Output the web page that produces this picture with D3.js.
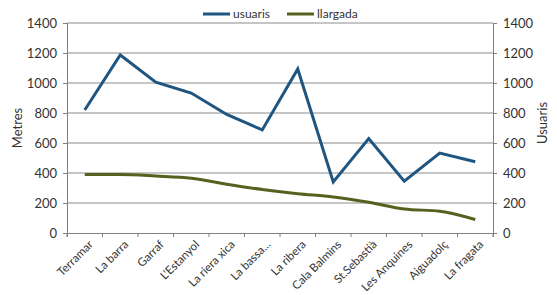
<!DOCTYPE html>
<html>
<head>
<meta charset="utf-8">
<script src="https://cdn.jsdelivr.net/npm/d3@7"></script>
<style>
  body { margin: 0; background: #fff; }
  text { font-family: Lato, "Open Sans", sans-serif; fill: #333; }
</style>
</head>
<body>
<div id="chart"></div>
<script>
const categories = ["Terramar", "La barra", "Garraf", "L'Estanyol", "La riera xica", "La bassa...",
  "La ribera", "Cala Balmins", "St.Sebastià", "Les Anquines", "Aiguadolç", "La fragata"];
const usuaris = [820, 1187, 1005, 933, 790, 687, 1093, 340, 630, 345, 533, 475];
const llargada = [390, 390, 380, 365, 325, 290, 262, 240, 205, 160, 145, 90];
const yTicks = [0, 200, 400, 600, 800, 1000, 1200, 1400];

const width = 557, height = 295;
const margin = {top: 23, right: 64, bottom: 62, left: 67};

let svg = d3.select("#chart")
  .append("svg")
  .attr("width", width)
  .attr("height", height);

let x = d3.scaleBand()
  .domain(categories)
  .range([margin.left, width - margin.right]);

let yLeft = d3.scaleLinear().domain([0, 1400]).range([height - margin.bottom, margin.top]);
let yRight = d3.scaleLinear().domain([0, 1400]).range([height - margin.bottom, margin.top]);

// gridlines
svg.append("g")
  .selectAll("line")
  .data(yTicks.slice(1))
  .enter().append("line")
  .attr("x1", margin.left)
  .attr("x2", width - margin.right)
  .attr("y1", d => yLeft(d))
  .attr("y2", d => yLeft(d))
  .attr("stroke", "#8c8c8c")
  .attr("stroke-width", 1);

// left axis
let gl = svg.append("g")
  .attr("transform", `translate(${margin.left},0)`)
  .call(d3.axisLeft(yLeft).tickValues(yTicks).tickFormat(d3.format("d")).tickSize(4).tickPadding(6));
// right axis
let gr = svg.append("g")
  .attr("transform", `translate(${width - margin.right},0)`)
  .call(d3.axisRight(yRight).tickValues(yTicks).tickFormat(d3.format("d")).tickSize(4).tickPadding(6));
// bottom axis
let gb = svg.append("g")
  .attr("transform", `translate(0,${height - margin.bottom})`)
  .call(d3.axisBottom(x).tickSize(4).tickSizeOuter(4).tickPadding(4));

// move bottom ticks to band boundaries
gb.selectAll(".tick line").attr("x1", -x.bandwidth() / 2).attr("x2", -x.bandwidth() / 2);
gb.append("line")
  .attr("x1", width - margin.right).attr("x2", width - margin.right)
  .attr("y1", 0).attr("y2", 4).attr("stroke", "#8c8c8c");

[gl, gr, gb].forEach(g => {
  g.selectAll("path, line").attr("stroke", "#808080");
  g.selectAll("text").style("font-size", "13px").style("font-family", "Lato, sans-serif").attr("fill", "#333");
});

gb.selectAll(".tick text")
  .style("font-size", "11.5px")
  .style("text-anchor", "end")
  .attr("dx", "-0.2em")
  .attr("dy", "0.6em")
  .attr("transform", "rotate(-45)");

// lines
let lineU = d3.line()
  .x((d, i) => x(categories[i]) + x.bandwidth() / 2)
  .y(d => yRight(d));
let lineL = d3.line()
  .x((d, i) => x(categories[i]) + x.bandwidth() / 2)
  .y(d => yLeft(d))
  .curve(d3.curveMonotoneX);

svg.append("path")
  .datum(llargada)
  .attr("d", lineL)
  .attr("fill", "none")
  .attr("stroke", "#56601f")
  .attr("stroke-width", 3);

svg.append("path")
  .datum(usuaris)
  .attr("d", lineU)
  .attr("fill", "none")
  .attr("stroke", "#1f5581")
  .attr("stroke-width", 3)
  .attr("stroke-linejoin", "miter");

// axis titles
svg.append("text")
  .attr("transform", `translate(22, ${(margin.top + height - margin.bottom) / 2}) rotate(-90)`)
  .style("text-anchor", "middle")
  .style("font-size", "13px")
  .text("Metres");

svg.append("text")
  .attr("transform", `translate(547, ${(margin.top + height - margin.bottom) / 2 - 5}) rotate(-90)`)
  .style("text-anchor", "middle")
  .style("font-size", "13px")
  .text("Usuaris");

// legend
let legend = [
  {name: "usuaris", color: "#1f5581", x: 203},
  {name: "llargada", color: "#56601f", x: 287}
];
let lg = svg.append("g").selectAll("g").data(legend).enter().append("g");
lg.append("line")
  .attr("x1", d => d.x).attr("x2", d => d.x + 27)
  .attr("y1", 14).attr("y2", 14)
  .attr("stroke", d => d.color)
  .attr("stroke-width", 3);
lg.append("text")
  .attr("x", d => d.x + 30)
  .attr("y", 18)
  .style("font-size", "12px")
  .text(d => d.name);
</script>
</body>
</html>
